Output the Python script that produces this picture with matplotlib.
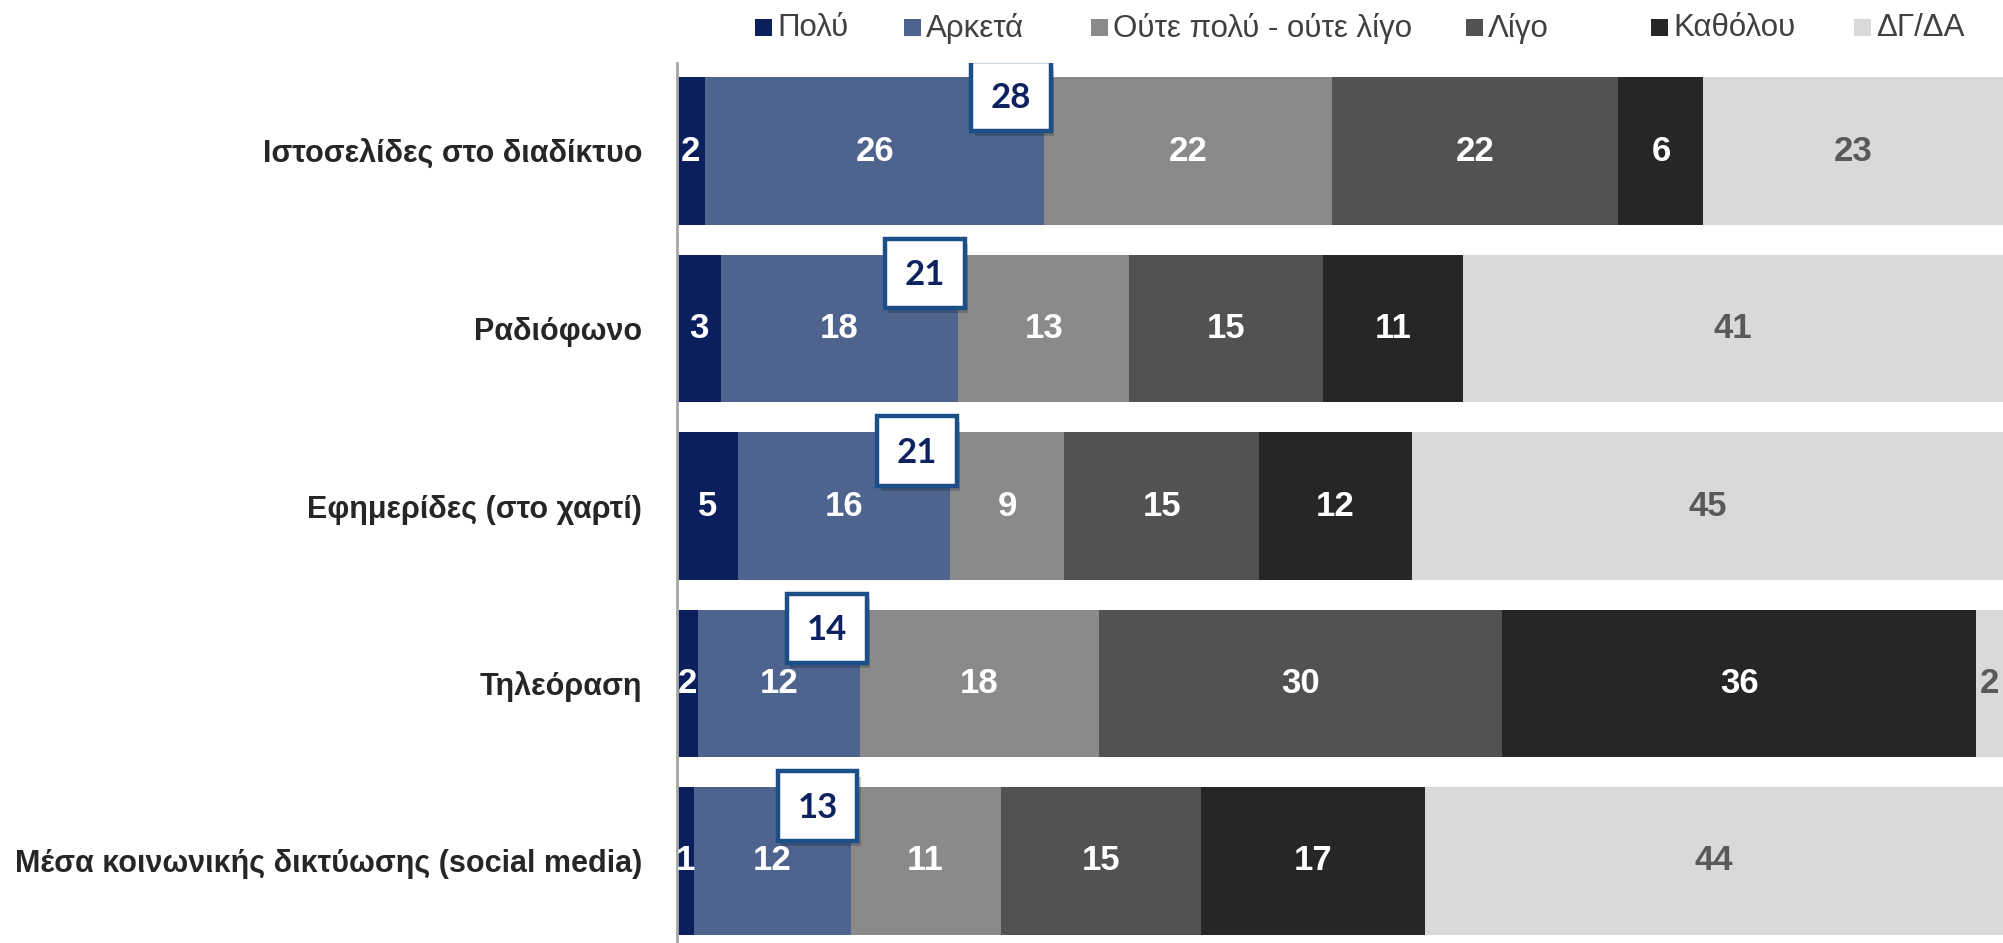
import matplotlib
matplotlib.use("Agg")
import matplotlib.pyplot as plt
from matplotlib.patches import Rectangle
import numpy as np

categories = ["Ιστοσελίδες στο διαδίκτυο", "Ραδιόφωνο", "Εφημερίδες (στο χαρτί)",
              "Τηλεόραση", "Μέσα κοινωνικής δικτύωσης (social media)"]
series_names = ["Πολύ", "Αρκετά", "Ούτε πολύ - ούτε λίγο", "Λίγο", "Καθόλου", "ΔΓ/ΔΑ"]
# percentages (bar lengths; labels are the rounded values)
poly = [2.1, 3.3, 4.6, 1.6, 1.3]
arketa = [25.6, 17.9, 16.0, 12.2, 11.8]
oute = [21.7, 12.9, 8.6, 18.0, 11.3]
ligo = [21.6, 14.6, 14.7, 30.4, 15.1]
katholou = [6.4, 10.6, 11.5, 35.8, 16.9]
dgda = [22.6, 40.7, 44.6, 2.0, 43.6]
series = [poly, arketa, oute, ligo, katholou, dgda]

colors = ["#0b1f5c", "#4e648e", "#8a8a8a", "#525252", "#262626", "#d9d9d9"]
label_colors = ["white", "white", "white", "white", "white", "#595959"]

plt.rcParams['font.family'] = ['Liberation Sans', 'DejaVu Sans']

W, H = 2003, 943
fig = plt.figure(figsize=(W / 100, H / 100), dpi=100)
ax = fig.add_axes([677 / W, 0, 1 - 677 / W, 1 - 63 / H])

y = np.arange(len(categories))
bh = 0.83
left = np.zeros(len(categories))
for vals, col, lc in zip(series, colors, label_colors):
    vals = np.array(vals, dtype=float)
    ax.barh(y, vals, left=left, height=bh, color=col, edgecolor='none')
    for i, (l, v) in enumerate(zip(left, vals)):
        r = min(l + v, 100)
        cx = (l + r) / 2
        ax.text(cx, y[i], f"{v:.0f}", ha='center', va='center', color=lc,
                fontsize=25, fontweight='bold')
    left += vals

# callout boxes: Πολύ + Αρκετά
tot = np.array(poly) + np.array(arketa)
bw, bht = 6.0, 0.39
for i, t in enumerate(tot):
    cx = t - 2.5
    cy = y[i] - 0.31
    ax.add_patch(Rectangle((cx - bw / 2 + 0.25, cy - bht / 2 + 0.03), bw, bht,
                           facecolor='#00000030', edgecolor='none', zorder=4))
    ax.add_patch(Rectangle((cx - bw / 2, cy - bht / 2), bw, bht, facecolor='white',
                           edgecolor='#1c4f88', linewidth=3.2, zorder=5))
    ax.text(cx, cy + 0.01, f"{t:.0f}", ha='center', va='center', color='#0f2260',
            fontsize=25, fontweight='bold', family=['Lato', 'DejaVu Sans'], zorder=6)

ax.set_xlim(0, 100)
ax.set_ylim(4.462, -0.496)
ax.set_yticks(y)
ax.set_yticklabels(categories, fontsize=22, fontweight='bold', color='#262626')
ax.tick_params(axis='y', length=0, pad=25)
ax.set_xticks([])
for s in ['top', 'right', 'bottom']:
    ax.spines[s].set_visible(False)
ax.spines['left'].set_color('#a6a6a6')
ax.spines['left'].set_linewidth(2)

# legend drawn as a row of squares and labels
leg_x = [763, 912, 1099, 1474, 1659, 1862]
leg_y = 1 - 28 / H
sq = 17
for xc, name, col in zip(leg_x, series_names, colors):
    fig.patches.append(Rectangle(((xc - sq / 2) / W, leg_y - sq / 2 / H), sq / W, sq / H,
                                 facecolor=col, edgecolor='none',
                                 transform=fig.transFigure, figure=fig))
    fig.text((xc + 14) / W, leg_y, name, ha='left', va='center', fontsize=22.5,
             color='#404040')

fig.savefig("out.png", dpi=100)
